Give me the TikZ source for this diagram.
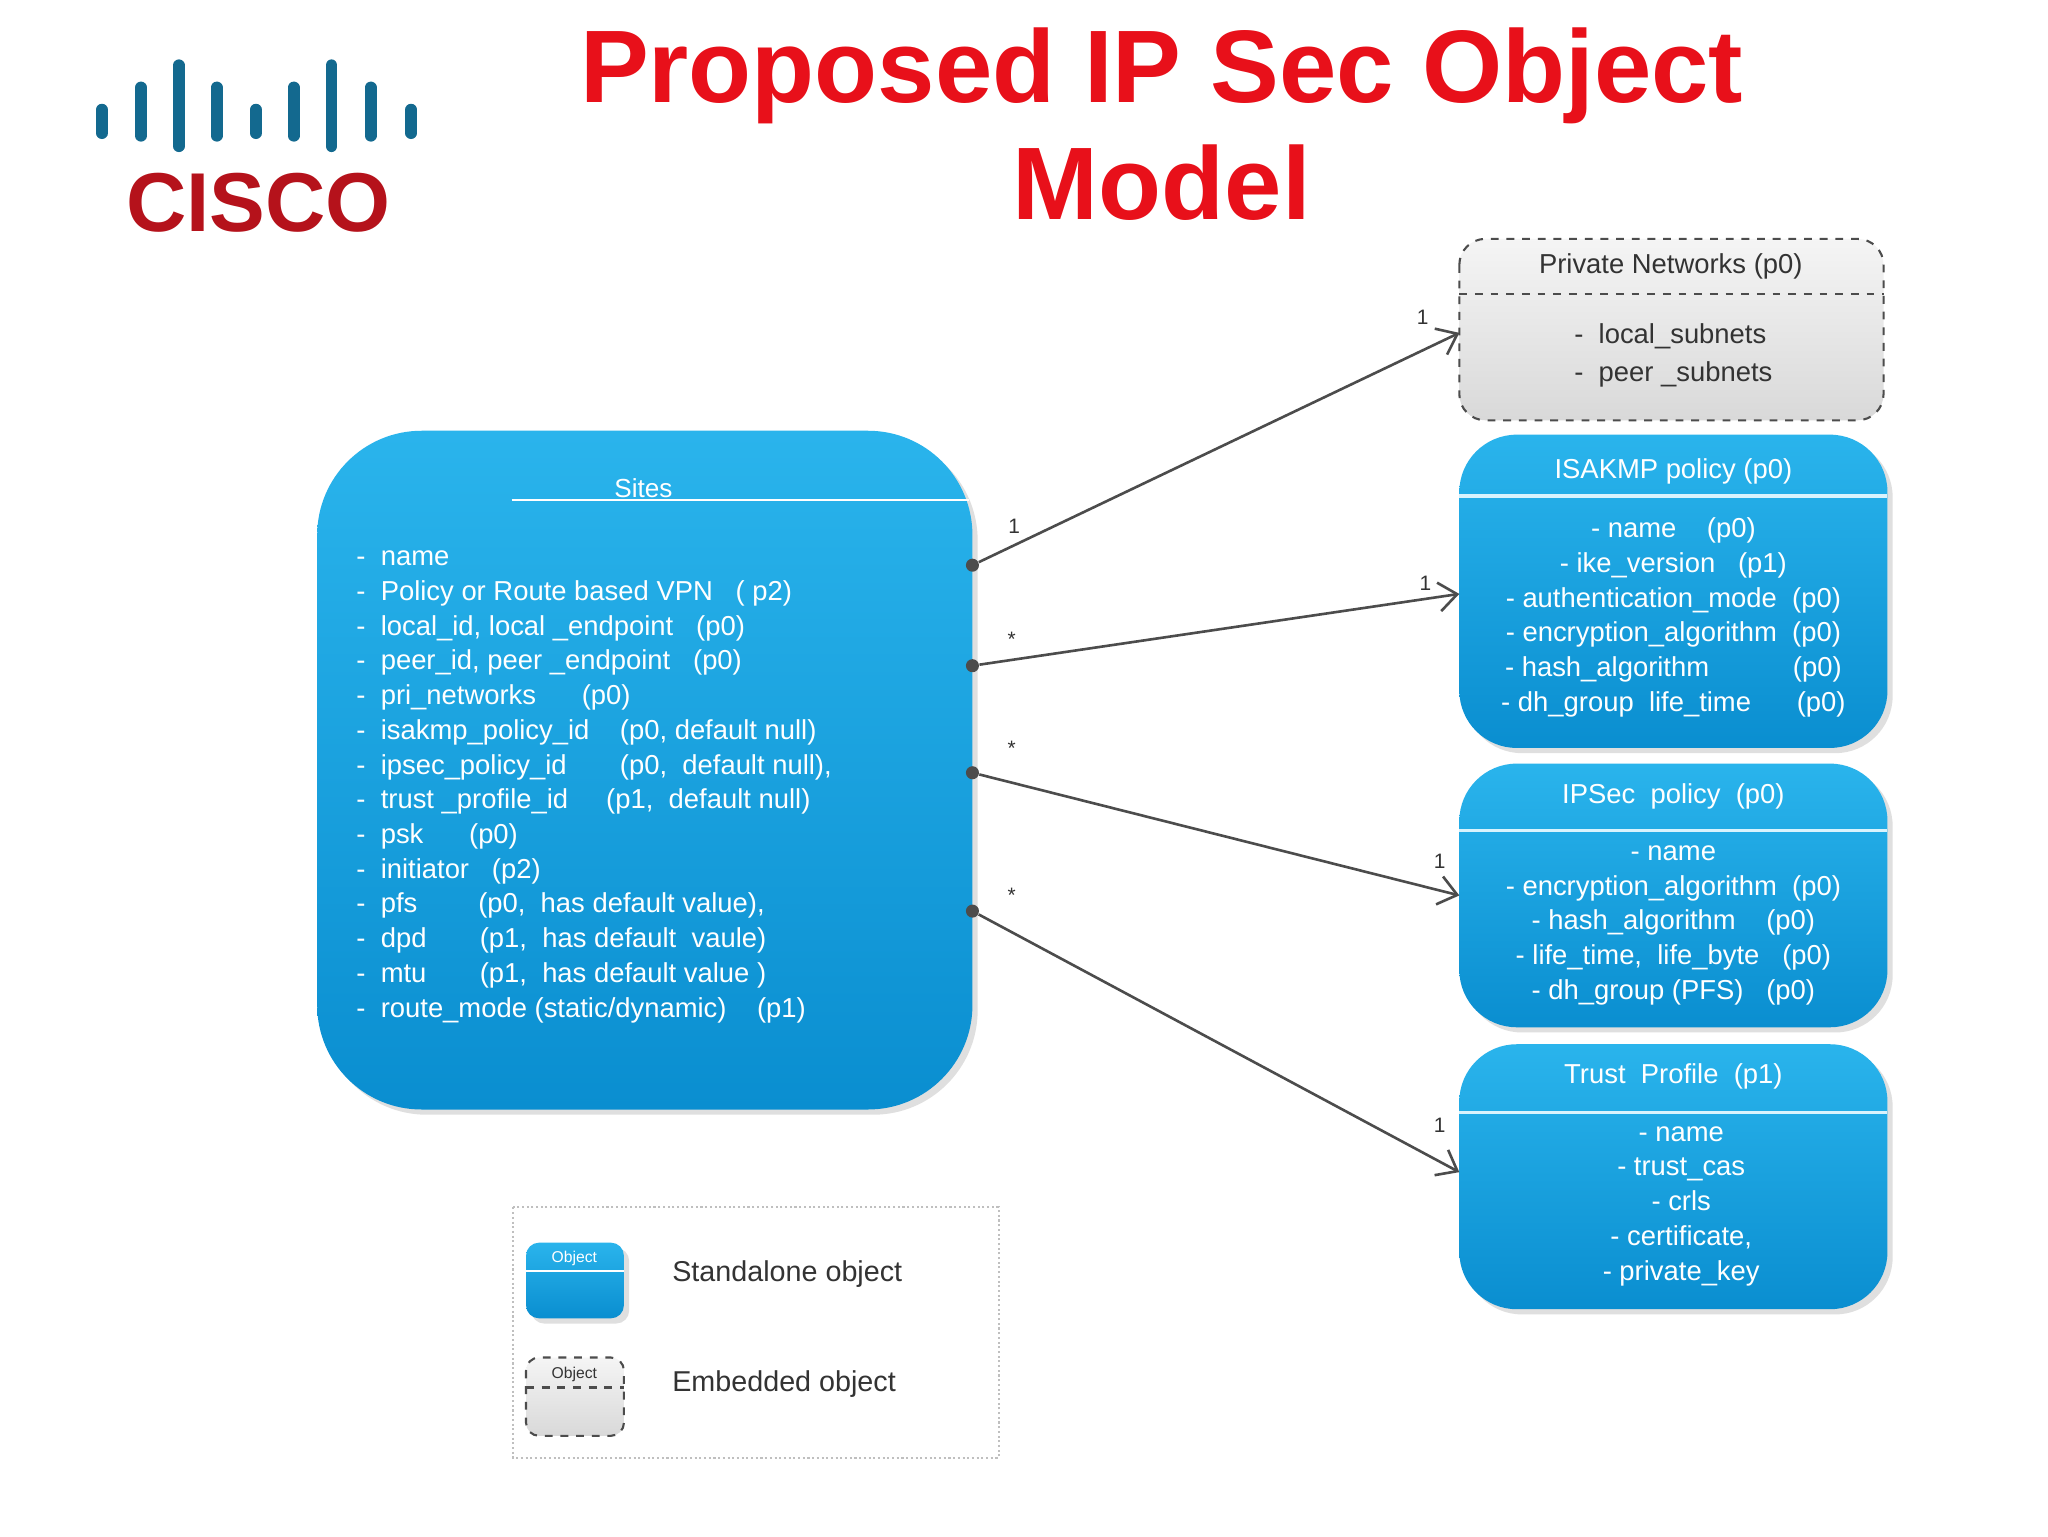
\documentclass[tikz,border=0pt]{standalone}
\usepackage{fontspec}
\setmainfont{Liberation Sans}
\usetikzlibrary{arrows.meta,shadows}
\definecolor{cblue}{HTML}{13698F}
\definecolor{cred}{HTML}{B5121B}
\definecolor{tred}{HTML}{E8101A}
\definecolor{btop}{HTML}{2AB4EC}
\definecolor{bbot}{HTML}{0A8ED0}
\begin{document}
\begin{tikzpicture}[x=0.5pt,y=-0.5pt,
  obj/.style={rounded corners=22pt,top color=btop,bottom color=bbot,draw=none,drop shadow={opacity=0.25,shadow xshift=2pt,shadow yshift=-2pt}},
  emb/.style={rounded corners=10pt,top color=gray!8,bottom color=gray!30,draw=black!70,dashed,line width=0.8pt},
  wt/.style={text=white,font=\fontsize{10.5}{13.3}\selectfont},
  bk/.style={text=black!80,font=\fontsize{10.5}{14.5}\selectfont},
  conn/.style={draw=black!70,line width=1pt,-{Straight Barb[length=7pt,width=11pt]}},
  lbl/.style={font=\fontsize{8}{9}\selectfont,text=black!80},
  dot/.style={circle,fill=black!70,inner sep=0pt,minimum size=5pt}]
\useasboundingbox (0,0) rectangle (1569,1177);
\fill[white] (0,0) rectangle (1569,1177);
% logo
\foreach \x/\a/\b in {78/84/102,108/67/104,137/50/112,166/67/104,196/84/102,225/67/104,254/50/112,284/67/104,315/84/102}
  \draw[cblue,line width=4.5pt,line cap=round] (\x,\a) -- (\x,\b);
\node[text=cred,font=\fontsize{32}{32}\bfseries,anchor=center] (cisco) at (198,155) {CISCO};
% title
\node[text=tred,font=\fontsize{39.5}{45}\bfseries\selectfont,align=center] (title) at (890,95) {Proposed IP Sec Object\\Model};
% Sites
\path[obj,rounded corners=40pt] (243,330) rectangle (745,850);
\node[text=white,font=\fontsize{10}{12}\selectfont] (sitesT) at (493,374) {Sites};
\draw[white,line width=1pt] (392,383) -- (742,383);
\node[wt,anchor=north west,align=left] (sites) at (266,415) {-\ \ name\\
-\ \ Policy or Route based VPN\ \ \ ( p2)\\
-\ \ local\_id, local \_endpoint\ \ \ (p0)\\
-\ \ peer\_id, peer \_endpoint\ \ \ (p0)\\
-\ \ pri\_networks\ \ \ \ \ \ (p0)\\
-\ \ isakmp\_policy\_id\ \ \ \ (p0,\ default\ null)\\
-\ \ ipsec\_policy\_id\ \ \ \ \ \ \ (p0,\ \ default null),\\
-\ \ trust \_profile\_id\ \ \ \ \ (p1,\ \ default null)\\
-\ \ psk\ \ \ \ \ \ (p0)\\
-\ \ initiator\ \ \ (p2)\\
-\ \ pfs\ \ \ \ \ \ \ \ (p0,\ \ has default value),\\
-\ \ dpd\ \ \ \ \ \ \ (p1,\ \ has default\ \ vaule)\\
-\ \ mtu\ \ \ \ \ \ \ (p1,\ \ has default value )\\
-\ \ route\_mode (static/dynamic)\ \ \ \ (p1)};
% Private networks
\path[emb] (1118,183) rectangle (1443,322);
\draw[black!70,dashed,line width=0.8pt] (1118,225) -- (1443,225);
\node[bk] (pnT) at (1280,204) {Private Networks (p0)};
\node[bk,align=left] (pn) at (1282,272) {-\ \ local\_subnets\\-\ \ peer \_subnets};
% ISAKMP
\path[obj] (1118,333) rectangle (1446,573);
\draw[white!85!cyan,line width=1.2pt] (1118,380) -- (1446,380);
\node[wt] (isT) at (1282,361) {ISAKMP policy (p0)};
\node[wt,align=center,font=\fontsize{10.5}{13.4}\selectfont] (is) at (1282,473) {- name\ \ \ \ (p0)\\- ike\_version\ \ \ (p1)\\- authentication\_mode\ \ (p0)\\- encryption\_algorithm\ \ (p0)\\- hash\_algorithm\ \ \ \ \ \ \ \ \ \ \ (p0)\\- dh\_group\ \ life\_time\ \ \ \ \ \ (p0)};
% IPSec
\path[obj] (1118,585) rectangle (1446,787);
\draw[white!85!cyan,line width=1.2pt] (1118,636) -- (1446,636);
\node[wt] (ipT) at (1282,610) {IPSec\ \ policy\ \ (p0)};
\node[wt,align=center] (ip) at (1282,709) {- name\\- encryption\_algorithm\ \ (p0)\\- hash\_algorithm\ \ \ \ (p0)\\- life\_time,\ \ life\_byte\ \ \ (p0)\\- dh\_group (PFS)\ \ \ (p0)};
% Trust
\path[obj] (1118,800) rectangle (1446,1003);
\draw[white!85!cyan,line width=1.2pt] (1118,852) -- (1446,852);
\node[wt] (trT) at (1282,825) {Trust\ \ Profile\ \ (p1)};
\node[wt,align=center] (tr) at (1288,924) {- name\\- trust\_cas\\- crls\\- certificate,\\- private\_key};
% connectors
\node[dot] (d1) at (745,433) {};
\node[dot] (d2) at (745,510) {};
\node[dot] (d3) at (745,592) {};
\node[dot] (d4) at (745,698) {};
\coordinate (e1) at (1118,255);
\coordinate (e2) at (1118,455);
\coordinate (e3) at (1118,686);
\coordinate (e4) at (1118,898);
\draw[conn] (d1) -- (e1);
\draw[conn] (d2) -- (e2);
\draw[conn] (d3) -- (e3);
\draw[conn] (d4) -- (e4);
\node[lbl] (l1a) at (777,403) {1};
\node[lbl] (l1b) at (1090,243) {1};
\node[lbl] (l2a) at (775,490) {*};
\node[lbl] (l2b) at (1092,447) {1};
\node[lbl] (l3a) at (775,573) {*};
\node[lbl] (l3b) at (1103,660) {1};
\node[lbl] (l4a) at (775,686) {*};
\node[lbl] (l4b) at (1103,862) {1};
% legend
\draw[black!25,densely dotted,line width=0.8pt] (393,925) rectangle (765,1117);
\path[obj,rounded corners=5pt] (403,952) rectangle (478,1010);
\draw[white,line width=0.8pt] (403,974) -- (478,974);
\node[text=white,font=\fontsize{6}{7}\selectfont] (o1) at (440,964) {Object};
\path[emb,rounded corners=5pt] (403,1040) rectangle (478,1100);
\draw[black!70,dashed,line width=0.8pt] (403,1063) -- (478,1063);
\node[text=black!80,font=\fontsize{6}{7}\selectfont] (o2) at (440,1053) {Object};
\node[bk,anchor=west,font=\fontsize{11}{13}\selectfont] (s1) at (508,976) {Standalone object};
\node[bk,anchor=west,font=\fontsize{11}{13}\selectfont] (s2) at (508,1060) {Embedded object};
\end{tikzpicture}
\end{document}
